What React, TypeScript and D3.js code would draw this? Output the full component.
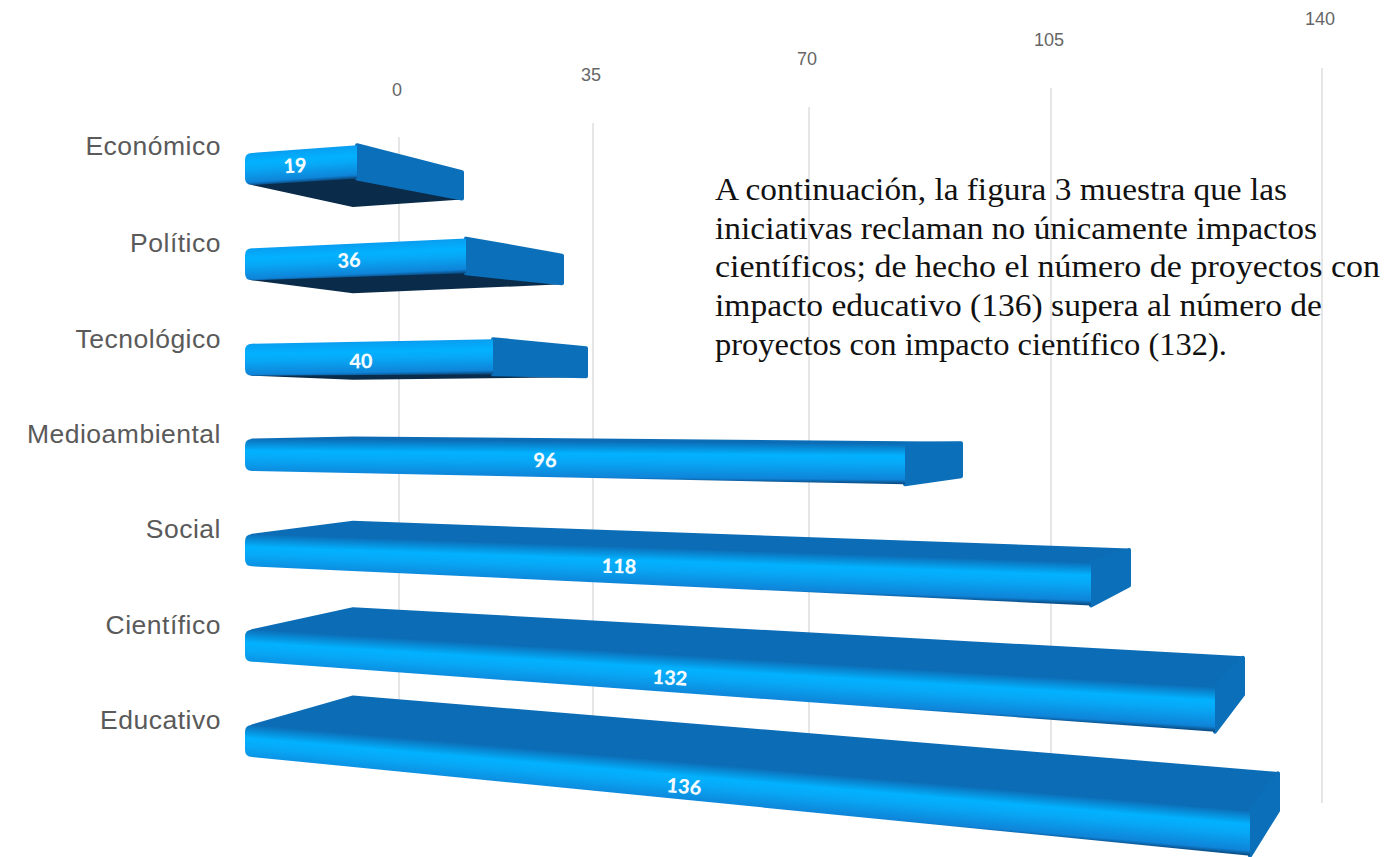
import React from "react";
import * as d3 from "d3";

// Impact categories, top to bottom, with the number of projects in each.
const categories = ["Económico", "Político", "Tecnológico", "Medioambiental", "Social", "Científico", "Educativo"];
const projectCounts = [19, 36, 40, 96, 118, 132, 136];
const axisTicks = [0, 35, 70, 105, 140];

const paragraph = [
  { text: "A continuación, la figura 3 muestra que las", width: 572 },
  { text: "iniciativas reclaman no únicamente impactos", width: 602 },
  { text: "científicos; de hecho el número de proyectos con", width: 665 },
  { text: "impacto educativo (136) supera al número de", width: 607 },
  { text: "proyectos con impacto científico (132).", width: 512 },
];

const W = 1384;
const H = 857;
const BAR_LEFT = 245;
const BACK_DX = 108;
const CORNER = 7;

// The chart sits in perspective, so value axes are piecewise scales.
const gridX = d3.scaleLinear().domain(axisTicks).range([399, 593, 809, 1051, 1322]);
const gridTop = d3.scaleLinear().domain(axisTicks).range([137, 123, 107, 88, 68]);
const gridBottom = d3.scaleLinear().domain(axisTicks).range([700, 716, 735, 770, 803]);
const tickBaseline = d3.scaleLinear().domain(axisTicks).range([96, 81, 65, 46, 25]);

const frontX = d3.scaleLinear().domain([0, ...projectCounts]).range([245, 357, 466, 493, 905, 1091, 1215, 1250]);
const farX = d3.scaleLinear().domain(projectCounts).range([464, 564, 588, 963, 1131, 1245, 1280]);
const labelX = d3.scaleLinear().domain(projectCounts).range([295, 349, 361, 545, 619, 670, 684]);

const rowIdx = d3.range(categories.length);
const rowTop = d3.scaleLinear().domain([0, 6]).range([153, 725]);
const rowSlope = d3.scaleLinear().domain([0, 6]).range([-0.07, 0.086]);
const rowFarRise = d3.scaleLinear().domain(rowIdx).range([25, 15, 7, -3, -15, -32, -40]);
const rowBackRise = d3.scaleLinear().domain(rowIdx).range([21, 12, 3, -1, -12, -21, -28]);
const rowLabelShift = d3.scaleLinear().domain(rowIdx).range([0, 0, 3, 1, 1, 4, 5]);

type Pt = [number, number];

const thickness = (x: number) => 32 * (1 + (x - BAR_LEFT) * 0.00038);
const polyPath = d3.line<Pt>().curve(d3.curveLinearClosed);

function bar(value: number, row: number) {
  const s = rowSlope(row);
  const top = (x: number) => rowTop(row) + s * (x - BAR_LEFT);
  const fx = frontX(value);
  const tl: Pt = [BAR_LEFT, top(BAR_LEFT)];
  const tr: Pt = [fx, top(fx)];
  const br: Pt = [fx, top(fx) + thickness(fx)];
  const bl: Pt = [BAR_LEFT, top(BAR_LEFT) + thickness(BAR_LEFT)];
  const fTop: Pt = [farX(value), tr[1] + rowFarRise(row)];
  const fBot: Pt = [farX(value), fTop[1] + thickness(fx) - 3];
  const rise = rowBackRise(row);
  const upperFace = rise < 0;
  const backLeft: Pt = upperFace ? [BAR_LEFT + BACK_DX, tl[1] + rise] : [BAR_LEFT + BACK_DX, bl[1] + rise];
  return { s, top, tl, tr, br, bl, fTop, fBot, backLeft, upperFace, fx };
}

// Front face outline with the two left corners rounded off.
function frontPath(tl: Pt, tr: Pt, br: Pt, bl: Pt) {
  const p = d3.path();
  p.moveTo(tl[0] + CORNER, tl[1]);
  p.lineTo(tr[0], tr[1]);
  p.lineTo(br[0], br[1]);
  p.lineTo(bl[0] + CORNER, bl[1]);
  p.quadraticCurveTo(bl[0], bl[1], bl[0], bl[1] - CORNER);
  p.lineTo(tl[0], tl[1] + CORNER);
  p.quadraticCurveTo(tl[0], tl[1], tl[0] + CORNER, tl[1]);
  p.closePath();
  return p.toString();
}

function normalEnd(x: number, y: number, s: number, len: number) {
  const n = Math.sqrt(1 + s * s);
  return { x2: x - (s / n) * len, y2: y + (1 / n) * len };
}

export default function App() {
  const bars = projectCounts.map((v, i) => ({ v, i, g: bar(v, i) }));
  return (
    <svg width={W} height={H} viewBox={`0 0 ${W} ${H}`} style={{ position: "absolute", left: 0, top: 0, background: "#fff" }}>
      <defs>
        {bars.map(({ i, g }) => {
          const end = normalEnd(g.tl[0], g.tl[1], g.s, thickness(g.fx) * 0.98);
          const upper = g.upperFace;
          return (
            <linearGradient key={i} id={`front-${i}`} gradientUnits="userSpaceOnUse" x1={g.tl[0]} y1={g.tl[1]} x2={end.x2} y2={end.y2}>
              <stop offset="0" stopColor={upper ? "#0c70ba" : "#0a9df0"} />
              <stop offset="0.3" stopColor="#02b2ff" />
              <stop offset="0.5" stopColor="#07a8f6" />
              <stop offset="0.9" stopColor="#0f84d8" />
              <stop offset="1" stopColor="#0a4f88" />
            </linearGradient>
          );
        })}
      </defs>

      {axisTicks.map((t) => (
        <g key={t}>
          <line x1={gridX(t)} x2={gridX(t)} y1={gridTop(t)} y2={gridBottom(t)} stroke="#e6e6e6" strokeWidth={2} />
          <text x={gridX(t) - 2} y={tickBaseline(t)} textAnchor="middle" fontFamily="Liberation Sans" fontSize={18} fill="#666">
            {t}
          </text>
        </g>
      ))}

      {categories.map((c, i) => (
        <text
          key={c}
          x={221}
          y={rowTop(i) + (i === 0 ? 2 : 4)}
          textAnchor="end"
          fontFamily="Liberation Sans"
          fontSize={26.5}
          letterSpacing={0.5}
          fill="#5a5a5a"
        >
          {c}
        </text>
      ))}

      {bars.map(({ v, i, g }) => {
        const farTop: Pt = [g.fTop[0] - 2, g.fTop[1] + 2];
        const farBot: Pt = [g.fBot[0] - 2, g.fBot[1] - 2];
        const tip: Pt = g.upperFace ? [g.tl[0] + CORNER, g.tl[1] + 1] : [g.bl[0] + CORNER, g.bl[1] - 1];
        const lx = labelX(v);
        const mid = g.top(lx) + thickness(lx) / 2 + rowLabelShift(i);
        return (
          <g key={i} strokeLinejoin="round">
            {!g.upperFace && (
              <path d={polyPath([tip, g.backLeft, farBot, g.br]) as string} fill="#0a2c4a" stroke="#0a2c4a" strokeWidth={2} />
            )}
            {g.upperFace && (
              <path d={polyPath([tip, g.backLeft, farTop, g.tr]) as string} fill="#0c6db6" stroke="#0c6db6" strokeWidth={3} />
            )}
            <path d={polyPath([g.tr, farTop, farBot, g.br]) as string} fill="#0b6fb9" stroke="#0b6fb9" strokeWidth={4} />
            <path d={frontPath(g.tl, g.tr, g.br, g.bl)} fill={`url(#front-${i})`} />
            <text
              x={lx}
              y={mid + 7}
              textAnchor="middle"
              fontFamily="Lato"
              fontWeight={900}
              fontSize={20}
              fill="#f4fbff"
              transform={`rotate(${(Math.atan(g.s) * 180) / Math.PI} ${lx} ${mid})`}
            >
              {v}
            </text>
          </g>
        );
      })}

      {paragraph.map((l, i) => (
        <text
          key={i}
          x={715}
          y={200 + i * 38.7}
          fontFamily="Liberation Serif"
          fontSize={32}
          fill="#111"
          textLength={l.width}
          lengthAdjust="spacingAndGlyphs"
        >
          {l.text}
        </text>
      ))}
    </svg>
  );
}
